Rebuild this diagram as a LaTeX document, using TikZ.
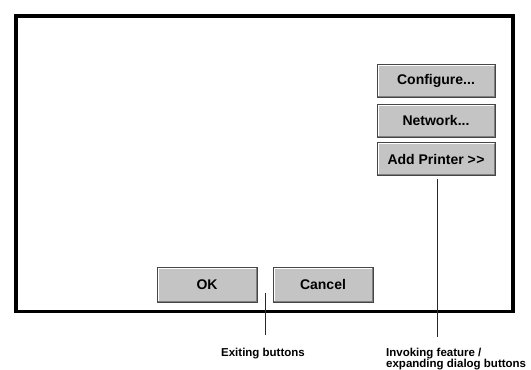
\documentclass[tikz,border=0pt]{standalone}
\usepackage{fontspec}
\setmainfont{Liberation Sans}
\definecolor{btnfill}{RGB}{196,196,196}
\definecolor{btnedge}{RGB}{70,70,70}
\definecolor{btnshadow}{RGB}{128,128,128}
\definecolor{leader}{RGB}{40,40,40}
\tikzset{
  btn/.style={draw=btnedge, line width=1pt, fill=btnfill, rectangle,
    minimum width=118pt, minimum height=33pt, inner sep=0pt,
    font=\fontsize{14}{16}\selectfont\bfseries},
  okbtn/.style={btn, minimum width=100pt, minimum height=35pt},
  frame/.style={draw=black, line width=3.6pt},
  leaderline/.style={draw=leader, line width=0.9pt},
  lbl/.style={font=\fontsize{11.5}{11}\selectfont\bfseries, inner sep=0pt, align=left}
}
\newcommand{\bevel}[1]{%
  \draw[white, line width=1pt] ([xshift=1.5pt,yshift=1.5pt]#1.south west) -- ([xshift=1.5pt,yshift=-1.5pt]#1.north west) -- ([xshift=-1.5pt,yshift=-1.5pt]#1.north east);
  \draw[btnshadow, line width=1pt] ([xshift=1.5pt,yshift=1.5pt]#1.south west) -- ([xshift=-1.5pt,yshift=1.5pt]#1.south east) -- ([xshift=-1.5pt,yshift=-1.5pt]#1.north east);
}
\begin{document}
\begin{tikzpicture}[x=1pt,y=-1pt]
\useasboundingbox (0,0) rectangle (531,370);
\draw[frame] (15.8,15.8) rectangle (513.2,311.5);

\node[btn] (conf) at (436,81) {Configure...};
\node[btn] (net) at (436,120.5) {Network...};
\node[btn] (add) at (436,159) {Add Printer {>}\kern0.5pt{>}};
\node[okbtn] (ok) at (207,284.5) {OK};
\node[okbtn] (cancel) at (323,284.5) {Cancel};
\bevel{conf}\bevel{net}\bevel{add}\bevel{ok}\bevel{cancel}

\coordinate (extop) at (265,293);
\coordinate (exbot) at (265,335);
\node[lbl, anchor=base] (exlbl) at (263,356) {Exiting buttons};
\draw[leaderline] (extop) -- (exbot);

\coordinate (invbot) at (437,337);
\node[lbl, anchor=base west] (invlbl) at (386,367) {Invoking feature /\\expanding dialog buttons};
\draw[leaderline] ([yshift=-3pt]add.south -| invbot) -- (invbot);
\end{tikzpicture}
\end{document}
